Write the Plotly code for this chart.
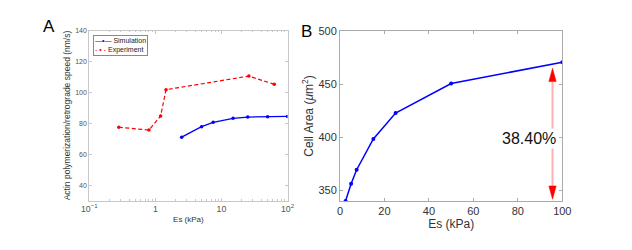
import plotly.graph_objects as go

# ---- Panel A data ----
sim_es = [2.5, 5, 7.5, 15, 25, 50, 100]
sim_speed = [71.0, 77.8, 80.6, 83.2, 84.0, 84.2, 84.4]
exp_es = [0.28, 0.8, 1.2, 1.45, 26, 63]
exp_speed = [77.4, 75.6, 84.7, 101.7, 110.5, 105.2]
series_names = ["Simulation", "Experiment"]

# ---- Panel B data ----
area_es = [2.5, 5, 7.5, 15, 25, 50, 100]
cell_area = [340.0, 356.2, 369.4, 398.4, 422.8, 450.6, 470.6]

pct_label = "38.40%"
pct_text_x = 85.1
pct_text_y = 399
arrow_x = 95.6
arrow_top = 465.0
arrow_bottom = 341.6
head_len = 12.6
head_half_w = 1.65

FONT = "Liberation Sans"
BLUE = "#0000ff"
RED = "#ff0000"

# page body has an 8px margin: size the figure so it fills the 632x250 window
PAGE_W, PAGE_H, BODY_M = 632, 250, 8
W, H = PAGE_W - BODY_M, PAGE_H - BODY_M


def px(x):
    return (x - BODY_M) / W


def py(y):
    return 1 - (y - BODY_M) / H


fig = go.Figure()

fig.add_trace(go.Scatter(
    x=sim_es, y=sim_speed, name=series_names[0], mode="lines+markers",
    line=dict(color=BLUE, width=1.3), marker=dict(size=3.5, color=BLUE),
    showlegend=False, xaxis="x", yaxis="y"))
fig.add_trace(go.Scatter(
    x=exp_es, y=exp_speed, name=series_names[1], mode="lines+markers",
    line=dict(color=RED, width=1.2, dash="4px,2.5px"), marker=dict(size=3.5, color=RED),
    showlegend=False, xaxis="x", yaxis="y"))

fig.add_trace(go.Scatter(
    x=area_es, y=cell_area, mode="lines+markers", showlegend=False,
    line=dict(color=BLUE, width=1.5), marker=dict(size=4, color=BLUE),
    xaxis="x2", yaxis="y2"))

# double arrow: shaft + heads
fig.add_trace(go.Scatter(
    x=[arrow_x, arrow_x], y=[arrow_bottom + head_len, arrow_top - head_len],
    mode="lines", line=dict(color="#ffb0b0", width=2), showlegend=False,
    hoverinfo="skip", xaxis="x2", yaxis="y2"))
fig.add_trace(go.Scatter(
    x=[arrow_x - head_half_w, arrow_x + head_half_w, arrow_x, arrow_x - head_half_w, None,
       arrow_x - head_half_w, arrow_x + head_half_w, arrow_x, arrow_x - head_half_w],
    y=[arrow_top - head_len, arrow_top - head_len, arrow_top, arrow_top - head_len, None,
       arrow_bottom + head_len, arrow_bottom + head_len, arrow_bottom, arrow_bottom + head_len],
    mode="lines", fill="toself", fillcolor=RED, line=dict(color=RED, width=0.5),
    showlegend=False, hoverinfo="skip", xaxis="x2", yaxis="y2"))

axA_line = "#c8c8c8"
axB_line = "#aaaaaa"

legend_text = (f"<span style='color:{BLUE}'>—<b>•</b>—</span> {series_names[0]}<br>"
               f"<span style='color:{RED}'>- <b>•</b> -</span> {series_names[1]}")

fig.update_layout(
    width=W, height=H,
    margin=dict(l=0, r=0, t=0, b=0, autoexpand=False),
    paper_bgcolor="white", plot_bgcolor="white",
    font=dict(family=FONT, color="#222"),
    showlegend=False,
    xaxis=dict(type="log", range=[-1, 2], domain=[px(89.3), px(287.5)], anchor="y",
               automargin=False,
               showline=True, linecolor=axA_line, linewidth=1, mirror="allticks",
               ticks="inside", ticklen=3, tickcolor=axA_line, dtick=1,
               exponentformat="power", showgrid=False, zeroline=False,
               tickfont=dict(size=7, color="#555"),
               minor=dict(ticks="inside", ticklen=1.5, tickcolor=axA_line, showgrid=False),
               title=dict(text="Es (kPa)", font=dict(size=8, color="#333"), standoff=3)),
    yaxis=dict(range=[30, 140], dtick=20, domain=[py(200.5), py(30.5)], anchor="x",
               automargin=False,
               showline=True, linecolor=axA_line, linewidth=1, mirror="allticks",
               ticks="inside", ticklen=3, tickcolor=axA_line, showgrid=False, zeroline=False,
               tickfont=dict(size=7, color="#555"),
               title=dict(text="Actin polymerization/retrograde speed (nm/s)",
                          font=dict(size=8.5, color="#333"), standoff=3)),
    xaxis2=dict(range=[0, 100], dtick=20, domain=[px(340), px(562.3)], anchor="y2",
                automargin=False,
                showline=True, linecolor=axB_line, linewidth=1, mirror="allticks",
                ticks="inside", ticklen=3, tickcolor=axB_line, showgrid=False, zeroline=False,
                tickfont=dict(size=11, color="#333"),
                title=dict(text="Es (kPa)", font=dict(size=12, color="#333"), standoff=2)),
    yaxis2=dict(range=[340, 500], dtick=50, domain=[py(201), py(31)], anchor="x2",
                automargin=False,
                showline=True, linecolor=axB_line, linewidth=1, mirror="allticks",
                ticks="inside", ticklen=3, tickcolor=axB_line, showgrid=False, zeroline=False,
                tickfont=dict(size=11, color="#333"),
                title=dict(text="Cell Area (<i>μ</i>m<sup>2</sup>)",
                           font=dict(size=12, color="#333"), standoff=2)),
    annotations=[
        dict(text=legend_text, x=px(92.7), y=py(35), xref="paper", yref="paper",
             xanchor="left", yanchor="top", align="left", showarrow=False,
             font=dict(size=7, color="#222"), bgcolor="white",
             bordercolor="#888", borderwidth=1, borderpad=1),
        dict(text=pct_label, x=pct_text_x, y=pct_text_y, xref="x2", yref="y2",
             showarrow=False, font=dict(size=16, color="#111"), bgcolor="white",
             borderpad=1),
        dict(text="A", x=px(49), y=py(27), xref="paper", yref="paper",
             showarrow=False, font=dict(size=17, color="#000"),
             xanchor="center", yanchor="middle"),
        dict(text="B", x=px(306.5), y=py(31), xref="paper", yref="paper",
             showarrow=False, font=dict(size=17, color="#000"),
             xanchor="center", yanchor="middle"),
    ],
)

fig.write_html("out.html")
